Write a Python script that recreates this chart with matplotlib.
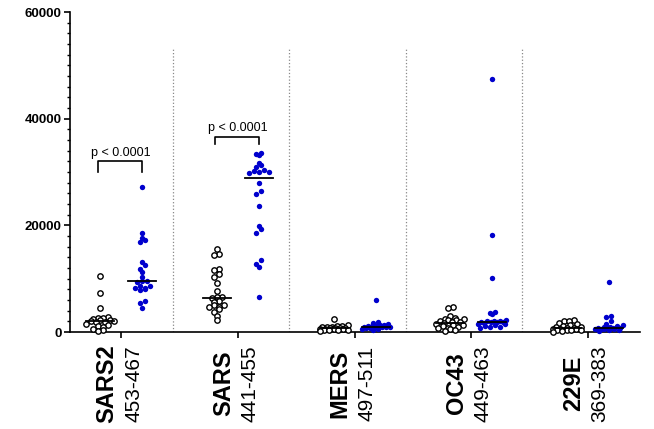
import numpy as np
import matplotlib.pyplot as plt
from matplotlib.ticker import MultipleLocator

plt.rcParams['font.family'] = ['Liberation Sans', 'DejaVu Sans']

groups = ['SARS2', 'SARS', 'MERS', 'OC43', '229E']
peptides = ['453-467', '441-455', '497-511', '449-463', '369-383']

# open (black) circles, one list per virus
neg_sars2 = [10500, 7300, 4600, 2900, 2700, 2600, 2500, 2300, 2200, 2100, 2000,
             1900, 1800, 1600, 1400, 1200, 1000, 600, 300, 200]
neg_sars = [15500, 14600, 14400, 11750, 11700, 10800, 10400, 9250, 7750, 6500,
            6500, 6400, 5870, 5560, 5060, 5000, 4750, 4700, 4300, 3800, 3000, 2250]
neg_mers = [2500, 1300, 1200, 1100, 1000, 900, 900, 800, 800, 700, 700, 600,
            600, 500, 500, 400, 400, 300, 300, 200]
neg_oc43 = [4700, 4600, 3000, 2600, 2500, 2400, 2300, 2200, 2000, 1900, 1800,
            1700, 1600, 1400, 1300, 1200, 1000, 800, 700, 500, 300, 200]
neg_229e = [2200, 2100, 2000, 1700, 1500, 1300, 1200, 1000, 900, 800, 700, 600,
            600, 500, 400, 400, 300, 300, 200, 100]

# filled (blue) dots
pos_sars2 = [27100, 18500, 17600, 17300, 16900, 13200, 12500, 11900, 11200, 10300,
             9600, 9500, 9300, 8700, 8600, 8300, 8200, 8000, 7900, 5800, 5400, 4500]
pos_sars = [33500, 33400, 33100, 31750, 31300, 30900, 30400, 30250, 30000, 30000,
            29900, 27900, 26400, 25900, 23700, 19900, 19300, 18500, 13600, 12800,
            12250, 6600]
pos_mers = [6100, 1800, 1700, 1500, 1400, 1300, 1200, 1200, 1100, 1000, 1000, 900,
            900, 800, 800, 700, 700, 600, 500, 400]
pos_oc43 = [47500, 18200, 10100, 3800, 3600, 3300, 2200, 2100, 2000, 2000, 1900,
            1900, 1800, 1800, 1700, 1600, 1500, 1300, 1100, 1000, 900, 700]
pos_229e = [9400, 3000, 2900, 2000, 1600, 1300, 1100, 1000, 900, 800, 800, 700,
            700, 600, 600, 500, 500, 400, 300, 200]

neg_all = [neg_sars2, neg_sars, neg_mers, neg_oc43, neg_229e]
pos_all = [pos_sars2, pos_sars, pos_mers, pos_oc43, pos_229e]

pvals = ['p < 0.0001', 'p < 0.0001']
bracket_y = [(30000, 32000), (35300, 36600)]

BLUE = '#0000cd'


def scatter_offsets(ypx, d, maxw):
    # GraphPad-like scatter: points binned in rows, rows spread sideways,
    # squeezed (overlapping) when a row gets too wide
    rows = np.floor(ypx / d).astype(int)
    xs = np.zeros(len(ypx))
    for r in np.unique(rows):
        idx = np.where(rows == r)[0]
        idx = idx[np.argsort(ypx[idx])]
        n = len(idx)
        if n == 1:
            continue
        step = min(d, 2 * maxw / (n - 1))
        # low values on even slots, high on odd slots -> zigzag, not a ramp
        slots = list(range(0, n, 2)) + list(range(1, n, 2))
        for k, j in zip(slots, idx):
            xs[j] = (k - (n - 1) / 2) * step
    return xs


def main():
    fig = plt.figure(figsize=(6.54, 4.29), dpi=100)
    ax = fig.add_axes([0.107, 0.226, 0.872, 0.746])
    ax.set_xlim(-0.44, 4.45)
    ax.set_ylim(0, 60000)

    px_x = ax.transData.transform((1, 0))[0] - ax.transData.transform((0, 0))[0]
    off = 0.18

    for i in range(len(groups)):
        for vals, dx, kind in [(neg_all[i], -off, 'neg'), (pos_all[i], off, 'pos')]:
            v = np.array(vals, dtype=float)
            ypx = ax.transData.transform(np.c_[np.zeros_like(v), v])[:, 1]
            xo = scatter_offsets(ypx, 5.0, 14) / px_x
            x = i + dx + xo
            if kind == 'neg':
                ax.scatter(x, v, s=15, facecolors='white', edgecolors='black',
                           linewidths=1.0, zorder=3, clip_on=False)
            else:
                ax.scatter(x, v, s=15, color=BLUE, linewidths=0, zorder=3,
                           clip_on=False)
            med = np.median(v)
            ax.plot([i + dx - 0.12, i + dx + 0.12], [med, med], color='black',
                    lw=1.3, zorder=4)
        if i < len(groups) - 1:
            ax.vlines(i + 0.44, 0, 53000, colors='#888888', linestyles=':', lw=0.9)

    for i, (p, (y0, y1)) in enumerate(zip(pvals, bracket_y)):
        ax.plot([i - 0.2, i - 0.2, i + 0.18, i + 0.18], [y0, y1, y1, y0],
                color='black', lw=1.2)
        ax.text(i, y1 + 500, p, ha='center', va='bottom', fontsize=9)

    ax.spines['top'].set_visible(False)
    ax.spines['right'].set_visible(False)
    ax.spines['left'].set_linewidth(1.2)
    ax.spines['bottom'].set_linewidth(1.2)

    ax.yaxis.set_major_locator(MultipleLocator(20000))
    ax.yaxis.set_minor_locator(MultipleLocator(2000))
    ax.tick_params(axis='y', which='major', length=4, width=1.2, pad=2, labelsize=9.5)
    ax.tick_params(axis='y', which='minor', length=2.5, width=1.0)
    for lab in ax.get_yticklabels():
        lab.set_fontweight('bold')

    ax.set_xticks(range(len(groups)))
    ax.set_xticklabels([])
    ax.tick_params(axis='x', length=4, width=1.2)

    for i, (g, pep) in enumerate(zip(groups, peptides)):
        ax.annotate(g, xy=(i, 0), xycoords=('data', 'axes fraction'),
                    xytext=(-2, -37), textcoords='offset points', rotation=90,
                    ha='right', va='center', fontsize=17, fontweight='bold')
        ax.annotate(pep, xy=(i, 0), xycoords=('data', 'axes fraction'),
                    xytext=(2, -37), textcoords='offset points', rotation=90,
                    ha='left', va='center', fontsize=15)

    fig.savefig('out.png', dpi=100)


if __name__ == '__main__':
    main()
